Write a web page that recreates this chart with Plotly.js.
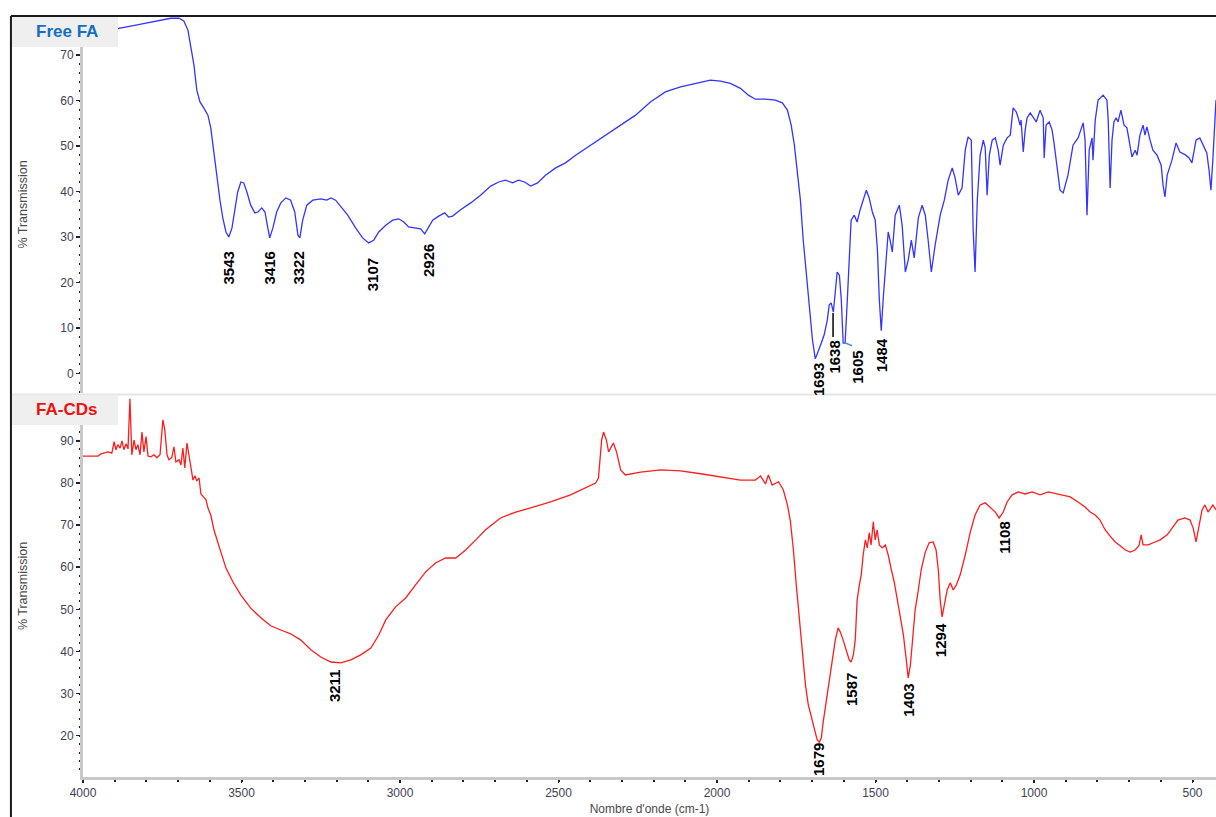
<!DOCTYPE html>
<html>
<head>
<meta charset="utf-8">
<script src="https://cdn.plot.ly/plotly-3.0.1.min.js"></script>
<style>
html,body{margin:0;padding:0;background:#fff;}
#chart{width:1216px;height:817px;}
</style>
</head>
<body>
<div id="chart"></div>
<script>
// ---------- DATA ----------
// Free FA spectrum (wavenumber cm-1, % transmission)
const wnFA = [4000,3943,3887,3817,3754,3723,3697,3682,3669,3660,3650,3641,3631,3619,3606,3597,3587,3578,3568,3559,3549,3540,3530,3521,3512,3502,3493,3483,3471,3458,3448,3436,3426,3417,3411,3401,3389,3376,3360,3345,3332,3322,3316,3307,3294,3275,3250,3231,3218,3203,3187,3165,3140,3118,3099,3083,3067,3045,3023,3004,2988,2973,2954,2935,2922,2910,2897,2878,2859,2847,2834,2809,2777,2746,2714,2689,2667,2645,2626,2607,2588,2566,2541,2509,2478,2446,2399,2352,2304,2257,2210,2163,2115,2068,2021,1989,1958,1926,1901,1879,1847,1816,1794,1778,1766,1756,1747,1737,1728,1718,1709,1699,1690,1681,1671,1662,1652,1646,1640,1633,1627,1621,1614,1608,1602,1596,1589,1583,1577,1567,1558,1549,1539,1529,1520,1510,1501,1494,1488,1482,1476,1469,1460,1454,1447,1438,1425,1416,1406,1397,1387,1378,1365,1353,1343,1334,1324,1312,1296,1283,1271,1258,1249,1239,1227,1217,1208,1198,1192,1186,1179,1170,1160,1154,1148,1141,1132,1122,1113,1107,1097,1085,1075,1066,1056,1050,1044,1041,1034,1028,1022,1012,1003,993,981,971,968,962,952,943,937,927,918,908,893,877,861,845,839,833,826,817,814,807,798,782,770,766,760,754,748,741,735,726,716,707,697,691,681,675,666,656,650,644,634,625,612,599,593,587,580,571,565,552,540,521,511,502,489,477,464,455,448,442,436,432,426];
const tFA = [74.8,75.3,75.9,76.8,77.7,78.1,78.1,77.5,75.5,72.2,67.8,62.3,59.7,58.4,56.8,54.0,49.1,43.6,38.1,34.2,31.1,30.0,32.0,35.9,39.9,42.1,41.9,39.9,37.0,35.3,35.5,36.4,35.5,32.0,29.8,32.0,35.5,37.5,38.6,38.1,35.5,30.4,29.8,33.7,37.0,38.1,38.4,38.1,38.6,38.1,36.8,34.8,32.0,29.8,28.7,29.3,31.1,32.6,33.7,34.0,33.3,32.2,32.0,31.8,30.7,32.0,33.7,34.6,35.3,34.4,34.6,36.0,37.5,39.2,41.2,42.1,42.5,41.9,42.5,42.1,41.2,41.9,43.6,45.2,46.3,48.0,50.2,52.4,54.6,56.8,59.7,61.9,63.0,63.8,64.5,64.3,63.8,62.7,61.2,60.3,60.3,60.1,59.5,57.9,54.6,50.2,44.7,38.1,29.3,21.6,13.9,7.4,3.2,5.1,6.7,8.5,11.8,15.1,15.5,13.5,18.4,22.3,21.6,16.2,6.7,6.7,16.2,27.1,33.7,34.8,33.3,35.9,38.1,40.3,38.6,35.5,33.7,27.1,16.2,9.4,16.2,23.8,31.1,29.3,26.7,34.8,37.0,32.6,22.3,24.9,29.3,25.4,34.2,37.0,34.8,29.3,22.3,28.2,34.8,38.1,42.5,45.2,43.0,39.2,40.8,49.1,52.0,51.3,31.5,22.3,38.1,48.0,51.3,49.6,39.2,48.0,51.3,51.8,49.1,45.8,50.2,51.8,52.4,58.4,57.5,56.2,54.6,55.7,48.7,53.5,56.2,57.3,56.4,55.3,57.9,56.2,47.4,54.6,55.3,53.5,50.7,45.8,40.3,39.7,43.6,50.2,51.8,55.1,51.3,34.8,49.1,51.8,46.9,55.7,60.1,61.2,60.1,55.7,40.8,51.3,55.3,56.2,55.3,57.9,54.6,54.0,50.2,47.6,49.1,48.0,52.4,54.6,52.4,54.2,51.3,49.1,48.0,45.8,41.4,38.8,43.6,45.8,46.9,50.7,48.7,48.0,47.4,46.3,51.3,51.8,49.6,48.5,44.7,40.3,46.9,53.5,60.1];

// FA-CDs spectrum
const wnCD = [4000,3953,3943,3921,3909,3902,3896,3890,3883,3877,3871,3864,3858,3852,3846,3839,3833,3827,3820,3814,3808,3801,3795,3786,3776,3767,3757,3748,3742,3735,3729,3720,3713,3707,3697,3691,3685,3679,3672,3666,3660,3653,3647,3641,3634,3628,3622,3612,3606,3597,3587,3578,3565,3549,3527,3502,3471,3439,3408,3376,3345,3313,3281,3250,3218,3187,3155,3124,3092,3067,3045,3014,2982,2951,2919,2888,2856,2824,2793,2761,2730,2683,2635,2588,2525,2462,2415,2383,2374,2364,2358,2349,2342,2333,2327,2317,2304,2289,2241,2178,2115,2052,1989,1926,1879,1863,1847,1838,1826,1806,1791,1778,1769,1759,1750,1740,1731,1721,1712,1702,1693,1684,1677,1671,1665,1655,1646,1637,1627,1618,1611,1602,1592,1583,1577,1570,1564,1558,1551,1545,1539,1532,1526,1520,1514,1507,1501,1495,1488,1479,1469,1460,1450,1441,1431,1422,1412,1403,1397,1390,1384,1375,1365,1356,1343,1331,1318,1309,1302,1296,1290,1283,1274,1264,1255,1245,1233,1217,1201,1186,1170,1154,1138,1122,1110,1097,1085,1069,1050,1028,1006,981,955,930,911,886,861,839,823,807,792,776,760,744,728,712,697,681,669,662,656,640,618,602,580,565,546,524,508,498,489,479,470,461,451,442,436,426];
const tCD = [86.4,86.4,86.9,87.4,87.1,89.8,87.9,89.1,88.3,90.0,87.9,89.3,88.1,100.0,86.7,90.2,87.9,89.1,86.7,92.1,87.4,91.0,86.4,86.2,86.7,86.0,86.7,95.0,92.6,86.7,85.5,86.0,88.6,85.0,85.5,84.3,88.3,83.6,89.5,86.7,84.3,80.7,81.7,80.5,81.2,77.4,76.9,76.0,74.1,72.4,68.9,66.5,63.6,59.8,56.5,53.4,50.3,48.0,46.1,45.1,44.2,42.7,40.4,38.7,37.5,37.3,38.0,39.2,40.8,43.9,47.5,50.6,52.7,55.8,58.9,61.0,62.2,62.2,64.1,66.5,68.9,71.7,73.1,74.1,75.5,77.2,78.8,80.0,81.2,90.2,92.1,90.2,87.4,88.8,89.5,87.4,83.1,81.9,82.6,83.1,82.9,82.2,81.4,80.7,80.7,81.7,79.8,81.9,79.5,80.3,78.4,74.8,71.2,64.1,55.8,47.5,39.2,32.0,27.3,24.2,21.8,19.0,18.5,19.5,23.3,28.5,33.2,38.0,42.7,45.6,44.6,42.7,40.4,38.0,37.5,39.2,42.7,52.2,55.8,58.2,62.9,66.5,64.6,68.2,65.3,70.8,66.5,68.9,65.3,64.6,65.3,62.9,59.4,56.5,52.2,48.7,43.9,38.0,33.7,36.8,42.7,49.9,54.6,59.4,63.6,65.8,66.0,64.1,59.4,52.2,48.2,51.0,54.6,56.3,54.6,55.8,58.2,62.9,68.4,72.4,74.8,75.3,74.3,73.1,71.7,73.1,75.5,77.2,77.9,77.4,77.9,77.2,77.9,77.4,77.2,76.7,75.5,74.3,73.1,72.4,71.2,68.9,67.4,66.0,65.1,64.1,63.6,64.1,65.1,67.7,65.3,65.3,66.0,66.5,67.7,69.3,71.2,71.7,71.2,69.3,66.0,70.0,73.6,74.8,73.1,74.1,74.8,73.6];

// Peak labels (text, label x in cm-1, label top in % T)
const peaksFA = ["3543","3416","3322","3107","2926","1693","1638","1605","1484"];
const peaksFAx = [3540,3411,3319,3086,2910,1680,1630,1557,1482];
const peaksFAy = [27.1,27.1,27.1,25.6,28.7,2.5,7.4,5.2,8.0];
const peaksCD = ["3211","1679","1587","1403","1294","1108"];
const peaksCDx = [3206,1680,1576,1397,1293,1094];
const peaksCDy = [36.1,18.5,35.1,32.5,47.0,71.2];

const xTicks = [4000,3500,3000,2500,2000,1500,1000,500];
const yTicksFA = [0,10,20,30,40,50,60,70];
const yTicksCD = [20,30,40,50,60,70,80,90];
const seriesNames = ["Free FA","FA-CDs"];

// ---------- CHART ----------
const FONT = "Arial, 'Liberation Sans', sans-serif";
const tickFont = {family: FONT, size: 12, color: "#3f3f52"};

const traces = [
  {x: wnFA, y: tFA, type: "scatter", mode: "lines", name: seriesNames[0],
   line: {color: "#3434ff", width: 1.3}, xaxis: "x", yaxis: "y", hoverinfo: "skip"},
  {x: wnCD, y: tCD, type: "scatter", mode: "lines", name: seriesNames[1],
   line: {color: "#ff1c1c", width: 1.3}, xaxis: "x", yaxis: "y2", hoverinfo: "skip"}
];

function yAxis(domain, range, ticks) {
  return {
    domain: domain, range: range, anchor: "x",
    tickmode: "array", tickvals: ticks,
    showgrid: false, zeroline: false,
    showline: true, linecolor: "#c8c8c8", linewidth: 3,
    ticks: "outside", ticklen: 4, tickwidth: 1.5, tickcolor: "#222",
    minor: {dtick: 2, tick0: 0, ticks: "outside", ticklen: 1.5, tickwidth: 2, tickcolor: "#222", showgrid: false},
    tickfont: tickFont,
    title: {text: "% Transmission", font: {family: FONT, size: 12.5, color: "#4a4a4a"}, standoff: 30}
  };
}

const annotations = [];
peaksFA.forEach((t, i) => annotations.push({
  text: t, x: peaksFAx[i], y: peaksFAy[i], xref: "x", yref: "y",
  showarrow: false, textangle: -90, xanchor: "center", yanchor: "top",
  font: {family: FONT, size: 15, color: "#000", weight: "bold"}, borderpad: 0
}));
peaksCD.forEach((t, i) => annotations.push({
  text: t, x: peaksCDx[i], y: peaksCDy[i], xref: "x", yref: "y2",
  showarrow: false, textangle: -90, xanchor: "center", yanchor: "top",
  font: {family: FONT, size: 15, color: "#000", weight: "bold"}, borderpad: 0
}));
// panel labels
annotations.push({text: "<b>" + seriesNames[0] + "</b>", xref: "paper", yref: "paper",
  x: -0.0141, y: 0.9790, showarrow: false, xanchor: "center", yanchor: "middle",
  font: {family: FONT, size: 17, color: "#1270c4"}});
annotations.push({text: "<b>" + seriesNames[1] + "</b>", xref: "paper", yref: "paper",
  x: -0.0150, y: 0.4823, showarrow: false, xanchor: "center", yanchor: "middle",
  font: {family: FONT, size: 17, color: "#ee1111"}});

const shapes = [
  // separator band between panels
  {type: "rect", xref: "paper", yref: "paper", x0: -0.0627, x1: 1, y0: 0.5014, y1: 0.5040,
   fillcolor: "#e6e6e6", line: {width: 0}, layer: "above"},
  // label boxes
  {type: "rect", xref: "paper", yref: "paper", x0: -0.0627, x1: 0.0309, y0: 0.9593, y1: 0.9987,
   fillcolor: "#efefef", line: {width: 0}, layer: "above"},
  {type: "rect", xref: "paper", yref: "paper", x0: -0.0627, x1: 0.0309, y0: 0.4626, y1: 0.5020,
   fillcolor: "#efefef", line: {width: 0}, layer: "above"},
  // frame border (top and left)
  {type: "line", xref: "paper", yref: "paper", x0: -0.0636, x1: 1, y0: 1.0, y1: 1.0,
   line: {color: "#1a1a1a", width: 2}, layer: "above"},
  {type: "line", xref: "paper", yref: "paper", x0: -0.0636, x1: -0.0636, y0: -0.06, y1: 1.0,
   line: {color: "#1a1a1a", width: 2}, layer: "above"},
  // pointer lines for 1638 and 1605
  {type: "line", xref: "x", yref: "y", x0: 1634, x1: 1634, y0: 13.3, y1: 8.0,
   line: {color: "#000", width: 1.5}},
  {type: "line", xref: "x", yref: "y", x0: 1601, x1: 1574, y0: 6.9, y1: 6.1,
   line: {color: "#4a8fd8", width: 1.5}}
];

const layout = {
  width: 1216, height: 817,
  margin: {l: 83, r: 0, t: 16, b: 40, pad: 0},
  paper_bgcolor: "#ffffff", plot_bgcolor: "#ffffff",
  showlegend: false,
  font: {family: FONT},
  xaxis: {
    range: [4000, 426], anchor: "y2",
    tickmode: "array", tickvals: xTicks,
    showgrid: false, zeroline: false,
    showline: true, linecolor: "#c8c8c8", linewidth: 3,
    ticks: "outside", ticklen: 3, tickwidth: 1.5, tickcolor: "#222",
    minor: {dtick: 100, tick0: 0, ticks: "outside", ticklen: 1.5, tickwidth: 2, tickcolor: "#222", showgrid: false},
    tickfont: tickFont,
    title: {text: "Nombre d'onde (cm-1)", font: {family: FONT, size: 12, color: "#4a4a4a"}, standoff: 6}
  },
  yaxis: yAxis([0.5046, 1], [-4.3, 78.6], yTicksFA),
  yaxis2: yAxis([0, 0.5020], [10.2, 100.9], yTicksCD),
  annotations: annotations,
  shapes: shapes
};

Plotly.newPlot("chart", traces, layout, {displayModeBar: false, staticPlot: true});
</script>
</body>
</html>
